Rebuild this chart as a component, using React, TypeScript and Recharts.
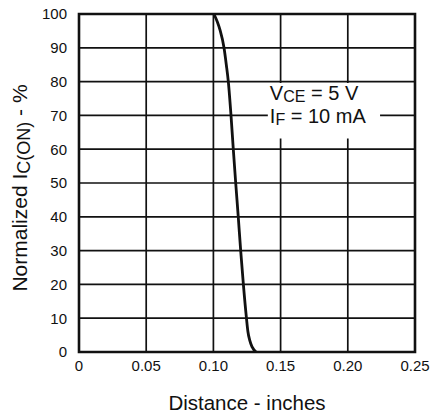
import { CartesianGrid, Line, LineChart, ReferenceArea, XAxis, YAxis } from "recharts";

// curve: distance (inches) vs normalized Ic(on) (%)
const distance = [0.1004, 0.1029, 0.1049, 0.1079, 0.1096, 0.1111, 0.1131, 0.1148, 0.1166, 0.1185, 0.1203, 0.1223, 0.1246, 0.1257, 0.127, 0.1288, 0.1318];
const icOn = [100, 97.7, 95.3, 90, 85, 80, 70, 60, 50, 40, 30, 20, 10, 6, 3.5, 1.5, 0];

const xTicks = [0, 0.05, 0.1, 0.15, 0.2, 0.25];
const xTickLabels = ["0", "0.05", "0.10", "0.15", "0.20", "0.25"];
const yTicks = [0, 10, 20, 30, 40, 50, 60, 70, 80, 90, 100];

// note box placement (data units)
const noteX = [0.1405, 0.224];
const noteY = [63.2, 79.6];

const data = distance.map((d, i) => ({ d, v: icOn[i] }));

const INK = "#111";
const FONT = "Arial, 'Liberation Sans', Helvetica, sans-serif";

function YTitle(props: any) {
  const vb = props.viewBox || {};
  const cx = 27;
  const cy = (vb.y ?? 14) + (vb.height ?? 338) / 2 + 5;
  return (
    <text
      x={cx}
      y={cy}
      transform={`rotate(-90, ${cx}, ${cy})`}
      textAnchor="middle"
      fontSize={21}
      fill={INK}
      fontFamily={FONT}
    >
      Normalized I
      <tspan fontSize={18} dy={3}>C(ON)</tspan>
      <tspan dy={-3}> - %</tspan>
    </text>
  );
}

function XTitle(props: any) {
  const vb = props.viewBox || {};
  const cx = (vb.x ?? 79) + (vb.width ?? 336) / 2;
  return (
    <text x={cx} y={410} textAnchor="middle" fontSize={20.5} fill={INK} fontFamily={FONT}>
      Distance - inches
    </text>
  );
}

function Note(props: any) {
  const vb = props.viewBox || {};
  const x = (vb.x ?? 268) + 2;
  const y = vb.y ?? 83;
  return (
    <text fontSize={20} fill={INK} fontFamily={FONT}>
      <tspan x={x} y={y + 17}>V</tspan>
      <tspan fontSize={16} dy={2}>CE</tspan>
      <tspan dy={-2}> = 5 V</tspan>
      <tspan x={x} y={y + 40}>I</tspan>
      <tspan fontSize={16} dy={2}>F</tspan>
      <tspan dy={-2}> = 10 mA</tspan>
    </text>
  );
}

export default function App() {
  return (
    <div style={{ position: "absolute", left: 0, top: 0, background: "#fff", fontFamily: FONT }}>
      <LineChart width={430} height={415} data={data} margin={{ top: 14, right: 15, left: 0, bottom: 0 }}>
        <CartesianGrid stroke={INK} strokeWidth={1.7} />
        <XAxis
          type="number"
          dataKey="d"
          domain={[0, 0.25]}
          ticks={xTicks}
          tickFormatter={(v: number) => xTickLabels[xTicks.indexOf(v)] ?? String(v)}
          axisLine={false}
          tickLine={false}
          tickSize={0}
          tickMargin={8}
          height={63}
          tick={{ fill: INK, fontSize: 15 }}
          label={{ content: XTitle }}
        />
        <YAxis
          type="number"
          domain={[0, 100]}
          ticks={yTicks}
          axisLine={false}
          tickLine={false}
          tickSize={0}
          tickMargin={12}
          width={79}
          tick={{ fill: INK, fontSize: 15 }}
          label={{ content: YTitle }}
        />
        <ReferenceArea
          x1={noteX[0]}
          x2={noteX[1]}
          y1={noteY[0]}
          y2={noteY[1]}
          fill="#fff"
          fillOpacity={1}
          stroke="none"
          label={{ content: Note }}
        />
        <ReferenceArea x1={0} x2={0.25} y1={0} y2={100} fill="none" stroke={INK} strokeWidth={2.6} />
        <Line
          type="monotone"
          dataKey="v"
          stroke={INK}
          strokeWidth={2.8}
          dot={false}
          isAnimationActive={false}
        />
      </LineChart>
    </div>
  );
}
